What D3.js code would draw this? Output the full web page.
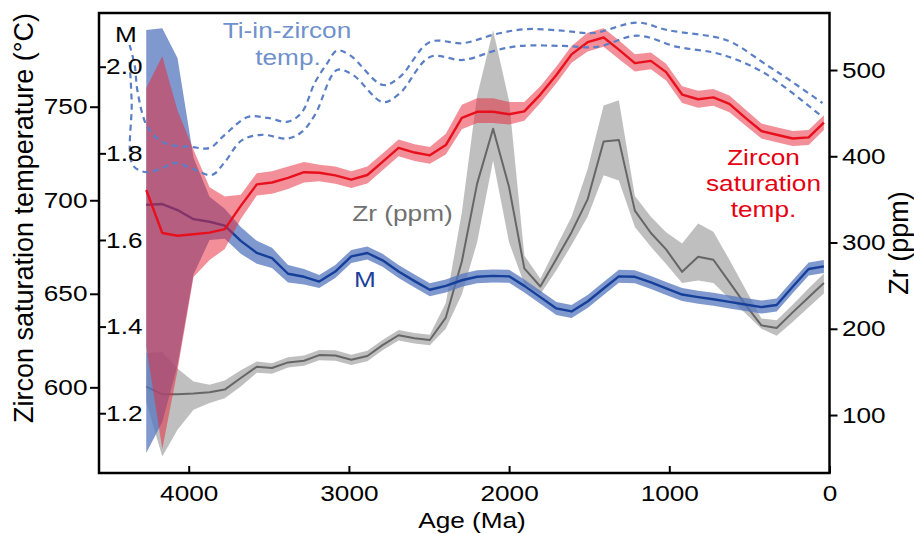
<!DOCTYPE html>
<html>
<head>
<meta charset="utf-8">
<script src="https://cdn.jsdelivr.net/npm/d3@7"></script>
<style>
  body { margin: 0; background: #fff; }
  svg text { font-family: "Liberation Sans", Arial, sans-serif; }
  /* the source figure has slightly wide lettering */
  .wide { transform-box: fill-box; transform-origin: center; transform: scaleX(1.19); }
</style>
</head>
<body>
<svg id="chart" width="914" height="534"></svg>
<script>
// ages (Ma) of the running-average points
const ages = [4265, 4165, 4070, 3970, 3870, 3775, 3675, 3575, 3480, 3380, 3280, 3185, 3085, 2985, 2885,
  2790, 2690, 2590, 2495, 2395, 2295, 2200, 2100, 2000, 1905, 1805, 1705, 1610, 1510, 1410, 1315,
  1215, 1115, 1020, 920, 820, 725, 625, 525, 425, 330, 230, 130, 35];

// zircon saturation temperature (°C) with its band
const satTemp = [705.5, 682.5, 681, 681.8, 682.7, 684.6, 697, 708.5, 709.5, 712, 715, 714.7, 713.3, 711, 713.5,
  720.5, 728, 725.5, 724, 729.5, 744, 747.3, 747.3, 746, 747.5, 756.5, 767, 778, 784.5, 787, 780.5,
  773.3, 774.5, 768.5, 756.5, 754, 755, 751.5, 744, 737, 735, 733, 733.6, 741.5];
const satTempHi = [760, 777, 748, 727, 707, 702, 703, 714.5, 715.5, 718, 720.5, 719, 718, 715.5, 718,
  725, 732.5, 730, 728.5, 735.5, 751, 754.5, 754.5, 752.5, 752.5, 761, 771.5, 782.5, 789.5, 792, 785.5,
  778, 779, 773, 761, 758.5, 759.5, 756, 748.5, 741, 739, 737, 737.6, 745.5];
const satTempLo = [622, 567, 609, 659, 668, 674, 690, 702.5, 703.5, 706, 709.5, 710.2, 708.8, 706.5, 709,
  716, 723.5, 721, 719.5, 724.5, 738, 741.3, 741.3, 740.5, 742.5, 752, 762.5, 773.5, 779.5, 782, 775.5,
  768.8, 770, 764, 752, 749.5, 750.5, 747, 740, 733, 731, 729, 729.6, 737.5];

// M (cation ratio) with its band
const mVal = [1.681, 1.683, 1.669, 1.648, 1.642, 1.633, 1.598, 1.570, 1.558, 1.522, 1.515, 1.504, 1.527, 1.562, 1.570,
  1.553, 1.527, 1.505, 1.485, 1.494, 1.507, 1.515, 1.517, 1.516, 1.494, 1.468, 1.442, 1.435, 1.458, 1.488, 1.516,
  1.515, 1.502, 1.488, 1.474, 1.468, 1.463, 1.457, 1.451, 1.445, 1.450, 1.492, 1.533, 1.539];
const mHi = [2.085, 2.089, 2.02, 1.79, 1.70, 1.672, 1.63, 1.598, 1.582, 1.542, 1.533, 1.519, 1.542, 1.577, 1.585,
  1.568, 1.542, 1.520, 1.500, 1.509, 1.522, 1.530, 1.532, 1.531, 1.509, 1.483, 1.457, 1.450, 1.473, 1.503, 1.531,
  1.530, 1.517, 1.503, 1.489, 1.483, 1.478, 1.472, 1.466, 1.460, 1.465, 1.507, 1.548, 1.554];
const mLo = [1.108, 1.18, 1.31, 1.52, 1.60, 1.603, 1.568, 1.545, 1.535, 1.502, 1.497, 1.489, 1.512, 1.547, 1.555,
  1.538, 1.512, 1.490, 1.470, 1.479, 1.492, 1.500, 1.502, 1.501, 1.479, 1.453, 1.427, 1.420, 1.443, 1.473, 1.501,
  1.500, 1.487, 1.473, 1.459, 1.453, 1.448, 1.442, 1.436, 1.430, 1.435, 1.477, 1.518, 1.524];

// Zr (ppm) with its band
const zr = [133, 124, 124, 125, 126.5, 129.5, 143, 156, 154.5, 161, 163, 169.5, 169, 164, 168.5,
  181, 192.5, 189, 187, 213, 278, 368, 432, 364, 270, 249, 281, 312, 350, 417, 419,
  337, 311, 292, 266, 283.5, 280, 254, 228, 204, 201, 219, 236.5, 253];
const zrHi = [171.5, 173, 154, 139, 135, 140, 152, 162, 160, 167, 169, 175.5, 175, 170, 174.5,
  187, 198.5, 195, 193, 230, 335, 470, 546, 464, 285, 258, 295, 330, 385, 459, 465,
  354, 330, 312, 299, 322, 312.5, 280, 246, 212, 210, 228, 247, 264];
const zrLo = [115, 52, 83, 106, 114, 119.5, 133, 149, 148, 155, 157, 163.5, 163, 158, 162.5,
  175, 186.5, 183, 181, 200, 240, 300, 395, 300, 252, 240, 268, 297, 330, 378, 372,
  318, 295, 275, 253, 256, 253, 235, 218, 200, 192, 208, 225, 241];

// Ti-in-zircon temperature envelope (°C), dashed
const tiUpAges = [4369, 4337, 4319, 4256, 4150, 3981, 3869, 3775, 3631, 3506, 3381, 3294, 3212, 3137, 3075,
  2994, 2788, 2681, 2494, 2287, 2075, 1887, 1662, 1475, 1200, 1012, 700, 600, 387, 262, 44];
const tiUpTemp = [783, 772, 758, 739, 730.6, 728.5, 728, 735, 744.5, 744, 742, 747, 763, 773, 780,
  777.6, 761.6, 766, 784.6, 784, 789, 791.5, 790.6, 789.4, 795, 791, 787, 784, 772, 765, 752];
const tiLowAges = [4369, 4356, 4350, 4262, 4150, 4087, 3981, 3856, 3775, 3669, 3544, 3381, 3294, 3212, 3075,
  2975, 2788, 2681, 2494, 2287, 2075, 1931, 1662, 1450, 1200, 950, 725, 575, 387, 44];
const tiLowTemp = [774, 752.5, 719, 715, 717.8, 720, 717, 713.5, 720.4, 732, 735, 733, 736.5, 745.6, 769.6,
  767, 752.5, 757.3, 776.6, 775, 780.3, 782.5, 782.5, 782, 788, 782, 779, 775, 767, 744.5];

// tick values
const ageTicks = [4000, 3000, 2000, 1000, 0];
const tempTicks = [600, 650, 700, 750];
const mTicks = [1.2, 1.4, 1.6, 1.8, 2.0];
const zrTicks = [100, 200, 300, 400, 500];

const plot = { left: 99, right: 829.5, top: 13, bottom: 473 };

const x = d3.scaleLinear().domain([4560, 0]).range([plot.left, plot.right]);
const yTemp = d3.scaleLinear().domain([554.2, 800.1]).range([plot.bottom, plot.top]);
const yM = d3.scaleLinear().domain([1.062, 2.124]).range([plot.bottom, plot.top]);
const yZr = d3.scaleLinear().domain([32.8, 566.1]).range([plot.bottom, plot.top]);

const svg = d3.select("#chart");
const idx = d3.range(ages.length);

// helper for a shaded band + its centre line
function band(y, lo, hi, fill, opacity) {
  const area = d3.area()
    .x(i => x(ages[i]))
    .y0(i => y(lo[i]))
    .y1(i => y(hi[i]));
  svg.append("path")
    .attr("d", area(idx))
    .attr("fill", fill)
    .attr("fill-opacity", opacity);
}
function centreLine(y, vals, color, width) {
  const line = d3.line()
    .x(i => x(ages[i]))
    .y(i => y(vals[i]));
  svg.append("path")
    .attr("d", line(idx))
    .attr("fill", "none")
    .attr("stroke", color)
    .attr("stroke-width", width)
    .attr("stroke-linejoin", "round");
}

band(yZr, zrLo, zrHi, "#8a8a8a", 0.55);
centreLine(yZr, zr, "#666666", 2);
band(yM, mLo, mHi, "#5476be", 0.75);
centreLine(yM, mVal, "#163f9a", 2.4);
band(yTemp, satTempLo, satTempHi, "#e8283a", 0.52);
centreLine(yTemp, satTemp, "#e8101c", 2.4);

// Ti-in-zircon dashed envelope
const dashed = d3.line()
  .curve(d3.curveCatmullRom.alpha(0.5))
  .x(d => x(d[0]))
  .y(d => yTemp(d[1]));
[[tiUpAges, tiUpTemp], [tiLowAges, tiLowTemp]].forEach(([a, t]) => {
  svg.append("path")
    .attr("d", dashed(a.map((v, i) => [v, t[i]])))
    .attr("fill", "none")
    .attr("stroke", "#5a7fc5")
    .attr("stroke-width", 2.2)
    .attr("stroke-dasharray", "6,4.5");
});

// frame
svg.append("rect")
  .attr("x", plot.left).attr("y", plot.top)
  .attr("width", plot.right - plot.left).attr("height", plot.bottom - plot.top)
  .attr("fill", "none").attr("stroke", "#000").attr("stroke-width", 2.5);

function styleAxis(g) {
  g.select(".domain").remove();
  g.selectAll(".tick line").attr("stroke", "#000").attr("stroke-width", 2);
  g.selectAll(".tick text")
    .attr("class", "wide")
    .attr("fill", "#000")
    .attr("font-size", 22);
}

svg.append("g")
  .attr("transform", `translate(${plot.left},0)`)
  .call(d3.axisLeft(yTemp).tickValues(tempTicks).tickSizeInner(9).tickSizeOuter(0).tickPadding(6))
  .call(styleAxis);

svg.append("g")
  .attr("transform", `translate(${plot.left},0)`)
  .call(d3.axisRight(yM).tickValues(mTicks).tickFormat(d3.format(".1f"))
    .tickSizeInner(7).tickSizeOuter(0).tickPadding(3))
  .call(styleAxis);

svg.append("g")
  .attr("transform", `translate(${plot.right},0)`)
  .call(d3.axisRight(yZr).tickValues(zrTicks).tickSizeInner(8).tickSizeOuter(0).tickPadding(8))
  .call(styleAxis);

svg.append("g")
  .attr("transform", `translate(0,${plot.bottom})`)
  .call(d3.axisBottom(x).tickValues(ageTicks).tickFormat(d3.format("d"))
    .tickSizeInner(-7).tickSizeOuter(0).tickPadding(12))
  .call(styleAxis);

// axis titles
svg.append("text")
  .attr("transform", "translate(33,218) rotate(-90)")
  .attr("text-anchor", "middle")
  .attr("font-size", 27)
  .text("Zircon saturation temperature (°C)");

svg.append("text")
  .attr("transform", "translate(908,243) rotate(-90)")
  .attr("text-anchor", "middle")
  .attr("font-size", 27)
  .text("Zr (ppm)");

svg.append("text")
  .attr("class", "wide")
  .attr("x", 472).attr("y", 528)
  .attr("text-anchor", "middle")
  .attr("font-size", 22)
  .text("Age (Ma)");

// in-plot labels
const labels = [
  { t: "M", x: 126, y: 42, c: "#000" },
  { t: "Ti-in-zircon", x: 287, y: 38, c: "#7091cc" },
  { t: "temp.", x: 288, y: 65, c: "#7091cc" },
  { t: "Zircon", x: 763.5, y: 165, c: "#e60012" },
  { t: "saturation", x: 763.5, y: 191.5, c: "#e60012" },
  { t: "temp.", x: 763.5, y: 217, c: "#e60012" },
  { t: "Zr (ppm)", x: 402.5, y: 221, c: "#707070" },
  { t: "M", x: 365, y: 287, c: "#1d3f99" }
];
svg.selectAll(".note")
  .data(labels)
  .enter()
  .append("text")
  .attr("class", "wide")
  .attr("x", d => d.x).attr("y", d => d.y)
  .attr("text-anchor", "middle")
  .attr("font-size", 22)
  .attr("fill", d => d.c)
  .text(d => d.t);
</script>
</body>
</html>
